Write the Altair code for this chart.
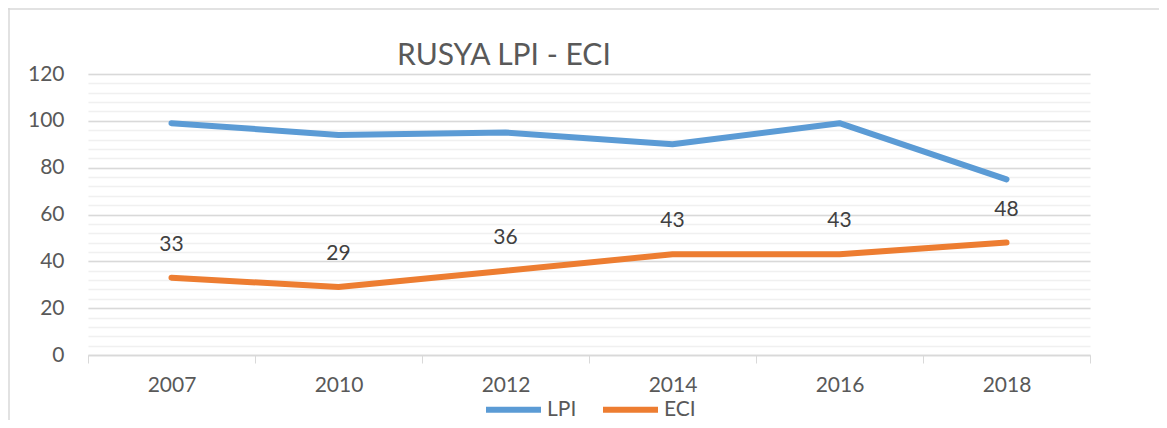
import altair as alt
import pandas as pd

years = ["2007", "2010", "2012", "2014", "2016", "2018"]
lpi = [99, 94, 95, 90, 99, 75]
eci = [33, 29, 36, 43, 43, 48]
series = ["LPI", "ECI"]
colors = ["#5B9BD5", "#ED7D31"]

rows = []
for y, v in zip(years, lpi):
    rows.append({"year": y, "series": "LPI", "value": v})
for y, v in zip(years, eci):
    rows.append({"year": y, "series": "ECI", "value": v})
df = pd.DataFrame(rows)
df_eci = pd.DataFrame({"year": years, "value": eci})

FONT = "Lato"
TXT = "#595959"
FS = 21

x_enc = alt.X(
    "year:N",
    sort=years,
    bandPosition=0.5,
    scale=alt.Scale(type="band", paddingInner=0, paddingOuter=0),
    axis=alt.Axis(
        title=None, labelAngle=0, tickBand="extent", tickSize=8,
        tickColor="#d9d9d9", domainColor="#d9d9d9", domainWidth=1.5,
        labelFontSize=FS, labelColor=TXT, labelFont=FONT, labelPadding=11,
        grid=False,
    ),
)
y_scale = alt.Scale(domain=[0, 120], nice=False)

minor = alt.Chart(df_eci).mark_text(
    dy=-33, fontSize=FS, font=FONT, color="#404040"
).encode(
    x=x_enc,
    y=alt.Y("value:Q", scale=y_scale, axis=alt.Axis(
        orient="left", values=list(range(0, 121, 4)), grid=True,
        gridColor="#f0f0f0", gridWidth=1.5, labels=False, ticks=False,
        domain=False, title=None)),
    text="value:Q",
)

lines = alt.Chart(df).mark_line(strokeWidth=6, strokeCap="round", strokeJoin="round").encode(
    x=x_enc,
    y=alt.Y("value:Q", scale=y_scale, axis=alt.Axis(
        orient="left", values=list(range(0, 121, 20)), grid=True,
        gridColor="#d9d9d9", gridWidth=1.5, ticks=False, domain=False,
        title=None, labelFontSize=FS, labelColor=TXT, labelFont=FONT,
        labelPadding=24)),
    color=alt.Color("series:N", scale=alt.Scale(domain=series, range=colors),
                    sort=series,
                    legend=alt.Legend(title=None, orient="none", legendX=395,
                                      legendY=305, direction="horizontal",
                                      symbolType="stroke", symbolSize=3025,
                                      symbolStrokeWidth=6, labelFontSize=FS,
                                      labelFont=FONT, labelColor=TXT,
                                      labelOffset=3, columnPadding=14)),
    detail="series:N",
)

border_df = pd.DataFrame({"k": [0]})
border_top = alt.Chart(border_df).mark_rule(color="#d9d9d9", strokeWidth=1.5).encode(
    x=alt.value(-80), x2=alt.value(1079), y=alt.value(-65))
border_left = alt.Chart(border_df).mark_rule(color="#d9d9d9", strokeWidth=1.5).encode(
    x=alt.value(-79), y=alt.value(-66), y2=alt.value(346))

chart = alt.layer(border_top, border_left, minor, lines).resolve_axis(y="independent").properties(
    width=1002,
    height=281,
    autosize=alt.AutoSizeParams(type="none"),
    padding={"left": 80, "top": 66, "right": 69, "bottom": 65},
    title=alt.TitleParams("RUSYA LPI - ECI", anchor="start", frame="group",
                          dx=309, offset=-88, baseline="alphabetic",
                          fontSize=30, font=FONT, fontWeight="normal", color=TXT),
).configure_view(stroke=None)

chart.save("out.html", embed_options={"renderer": "svg", "actions": False})
